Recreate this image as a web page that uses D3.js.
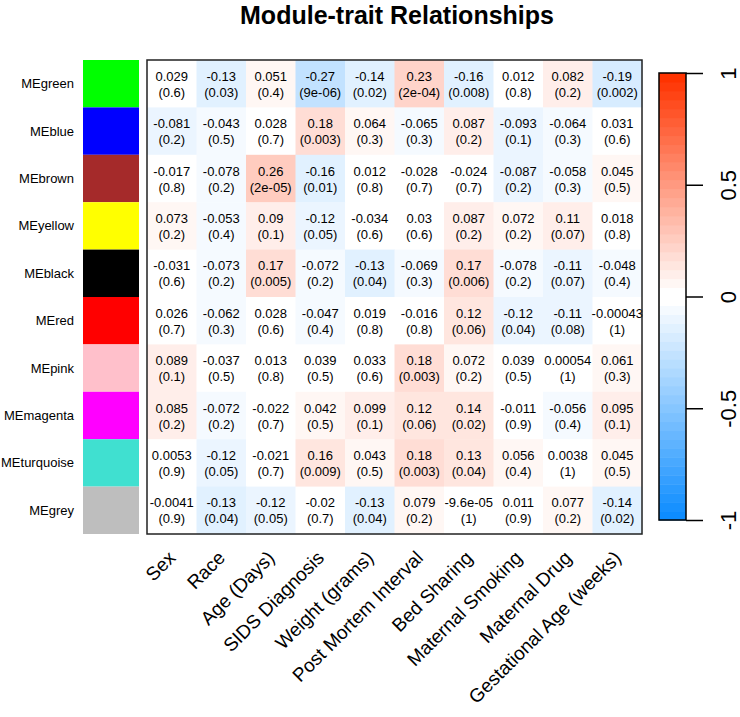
<!DOCTYPE html>
<html>
<head>
<meta charset="utf-8">
<script src="https://cdn.jsdelivr.net/npm/d3@7"></script>
<style>
  body { margin: 0; background: #fff; }
  text { font-family: "Liberation Sans", Arial, sans-serif; fill: #000; }
</style>
</head>
<body>
<div class="heatmap_container"></div>
<script>
// 資料
const modules = ['MEgreen', 'MEblue', 'MEbrown', 'MEyellow', 'MEblack', 'MEred', 'MEpink', 'MEmagenta', 'MEturquoise', 'MEgrey']
const moduleColors = ['#00FF00', '#0000FF', '#A52A2A', '#FFFF00', '#000000', '#FF0000', '#FFC0CB', '#FF00FF', '#40E0D0', '#BEBEBE']
const traits = ['Sex', 'Race', 'Age (Days)', 'SIDS Diagnosis', 'Weight (grams)', 'Post Mortem Interval',
    'Bed Sharing', 'Maternal Smoking', 'Maternal Drug', 'Gestational Age (weeks)']

// 相關係數 (照畫面上的文字)
const corText = [
    ['0.029', '-0.13', '0.051', '-0.27', '-0.14', '0.23', '-0.16', '0.012', '0.082', '-0.19'],
    ['-0.081', '-0.043', '0.028', '0.18', '0.064', '-0.065', '0.087', '-0.093', '-0.064', '0.031'],
    ['-0.017', '-0.078', '0.26', '-0.16', '0.012', '-0.028', '-0.024', '-0.087', '-0.058', '0.045'],
    ['0.073', '-0.053', '0.09', '-0.12', '-0.034', '0.03', '0.087', '0.072', '0.11', '0.018'],
    ['-0.031', '-0.073', '0.17', '-0.072', '-0.13', '-0.069', '0.17', '-0.078', '-0.11', '-0.048'],
    ['0.026', '-0.062', '0.028', '-0.047', '0.019', '-0.016', '0.12', '-0.12', '-0.11', '-0.00043'],
    ['0.089', '-0.037', '0.013', '0.039', '0.033', '0.18', '0.072', '0.039', '0.00054', '0.061'],
    ['0.085', '-0.072', '-0.022', '0.042', '0.099', '0.12', '0.14', '-0.011', '-0.056', '0.095'],
    ['0.0053', '-0.12', '-0.021', '0.16', '0.043', '0.18', '0.13', '0.056', '0.0038', '0.045'],
    ['-0.0041', '-0.13', '-0.12', '-0.02', '-0.13', '0.079', '-9.6e-05', '0.011', '0.077', '-0.14']
]
// p 值
const pText = [
    ['0.6', '0.03', '0.4', '9e-06', '0.02', '2e-04', '0.008', '0.8', '0.2', '0.002'],
    ['0.2', '0.5', '0.7', '0.003', '0.3', '0.3', '0.2', '0.1', '0.3', '0.6'],
    ['0.8', '0.2', '2e-05', '0.01', '0.8', '0.7', '0.7', '0.2', '0.3', '0.5'],
    ['0.2', '0.4', '0.1', '0.05', '0.6', '0.6', '0.2', '0.2', '0.07', '0.8'],
    ['0.6', '0.2', '0.005', '0.2', '0.04', '0.3', '0.006', '0.2', '0.07', '0.4'],
    ['0.7', '0.3', '0.6', '0.4', '0.8', '0.8', '0.06', '0.04', '0.08', '1'],
    ['0.1', '0.5', '0.8', '0.5', '0.6', '0.003', '0.2', '0.5', '1', '0.3'],
    ['0.2', '0.2', '0.7', '0.5', '0.1', '0.06', '0.02', '0.9', '0.4', '0.1'],
    ['0.9', '0.05', '0.7', '0.009', '0.5', '0.003', '0.04', '0.4', '1', '0.5'],
    ['0.9', '0.04', '0.05', '0.7', '0.04', '0.2', '1', '0.9', '0.2', '0.02']
]
const legendTicks = [-1, -0.5, 0, 0.5, 1]

// blueWhiteRed(50) 色階
const nColors = 50
const blueEnd = [0.05, 0.55, 1.0]
const redEnd = [1.0, 0.2, 0.0]
function bwrColor(i) {
    const half = nColors / 2
    let base, frac
    if (i < half) { base = blueEnd; frac = i / (half - 1) }
    else { base = redEnd; frac = 1 - (i - half) / (half - 1) }
    const c = base.map(b => Math.round(255 * (b + (1 - b) * frac)))
    return `rgb(${c[0]},${c[1]},${c[2]})`
}
const palette = d3.range(nColors).map(bwrColor)
const colorOf = v => palette[Math.min(nColors - 1, Math.floor((v + 1) / (2 / nColors)))]

const cells = []
modules.forEach((m, r) => traits.forEach((t, c) => {
    cells.push({ module: m, trait: t, cor: corText[r][c], p: pText[r][c] })
}))

const svg_width = 740
const svg_height = 717
const heat = { left: 147, right: 642, top: 60, bottom: 534 }

const svg = d3.select('.heatmap_container').append('svg')
    .attr('width', svg_width).attr('height', svg_height)

const xScale = d3.scaleBand().domain(traits).range([heat.left, heat.right])
const yScale = d3.scaleBand().domain(modules).range([heat.top, heat.bottom])

// 標題
svg.append('text')
    .attr('x', 397).attr('y', 24)
    .attr('text-anchor', 'middle')
    .style('font-size', '25px').style('font-weight', 'bold')
    .text('Module-trait Relationships')

// 模組色塊
svg.append('g').selectAll('rect').data(modules).enter().append('rect')
    .attr('x', 83).attr('width', 56)
    .attr('y', d => yScale(d)).attr('height', yScale.bandwidth())
    .attr('fill', (d, i) => moduleColors[i])

svg.append('g').selectAll('text').data(modules).enter().append('text')
    .attr('x', 74)
    .attr('y', d => yScale(d) + yScale.bandwidth() / 2)
    .attr('text-anchor', 'end').attr('dominant-baseline', 'central')
    .style('font-size', '13px')
    .text(d => d)

// 熱圖格子
svg.append('g').selectAll('rect').data(cells).enter().append('rect')
    .attr('x', d => xScale(d.trait)).attr('width', xScale.bandwidth() + 0.5)
    .attr('y', d => yScale(d.module)).attr('height', yScale.bandwidth() + 0.5)
    .attr('fill', d => colorOf(+d.cor))

const labels = svg.append('g').selectAll('text').data(cells).enter().append('text')
    .attr('text-anchor', 'middle')
    .style('font-size', '13px')
labels.append('tspan')
    .attr('x', d => xScale(d.trait) + xScale.bandwidth() / 2)
    .attr('y', d => yScale(d.module) + yScale.bandwidth() / 2 - 3)
    .text(d => d.cor)
labels.append('tspan')
    .attr('x', d => xScale(d.trait) + xScale.bandwidth() / 2)
    .attr('y', d => yScale(d.module) + yScale.bandwidth() / 2 + 13)
    .text(d => `(${d.p})`)

svg.append('rect')
    .attr('x', heat.left).attr('y', heat.top)
    .attr('width', heat.right - heat.left).attr('height', heat.bottom - heat.top)
    .attr('fill', 'none').attr('stroke', '#222').attr('stroke-width', 1.5)

// x 軸文字 (45 度)
svg.append('g').selectAll('text').data(traits).enter().append('text')
    .attr('transform', d => `translate(${xScale(d) + xScale.bandwidth() / 2 + 5},559) rotate(-45)`)
    .attr('text-anchor', 'end')
    .style('font-size', '19px')
    .text(d => d)

// 色階圖例
const legend = { x: 659, w: 27, top: 73, bottom: 520 }
const legendScale = d3.scaleLinear().domain([-1, 1]).range([legend.bottom, legend.top])
const step = 2 / nColors
svg.append('g').selectAll('rect').data(palette).enter().append('rect')
    .attr('x', legend.x).attr('width', legend.w)
    .attr('y', (d, i) => legendScale(-1 + (i + 1) * step))
    .attr('height', legendScale(-1) - legendScale(-1 + step) + 0.5)
    .attr('fill', d => d)
svg.append('rect')
    .attr('x', legend.x).attr('y', legend.top)
    .attr('width', legend.w).attr('height', legend.bottom - legend.top)
    .attr('fill', 'none').attr('stroke', '#000').attr('stroke-width', 1.5)

const legendAxis = d3.axisRight(legendScale).tickValues(legendTicks)
    .tickFormat(d3.format('~g')).tickSize(17).tickSizeOuter(0)
const legendAxisDraw = svg.append('g')
    .attr('transform', `translate(${legend.x + legend.w},0)`)
    .call(legendAxis)
legendAxisDraw.select('.domain').remove()
legendAxisDraw.selectAll('line').attr('stroke', '#000').attr('stroke-width', 1.5)
legendAxisDraw.selectAll('text')
    .attr('x', 0).attr('dy', 0)
    .attr('transform', 'translate(50,0) rotate(-90)')
    .attr('text-anchor', 'middle')
    .style('font-size', '22px').style('font-family', '"Liberation Sans", Arial, sans-serif')
    .text(d => d3.format('~g')(d).replace('−', '-'))
</script>
</body>
</html>
